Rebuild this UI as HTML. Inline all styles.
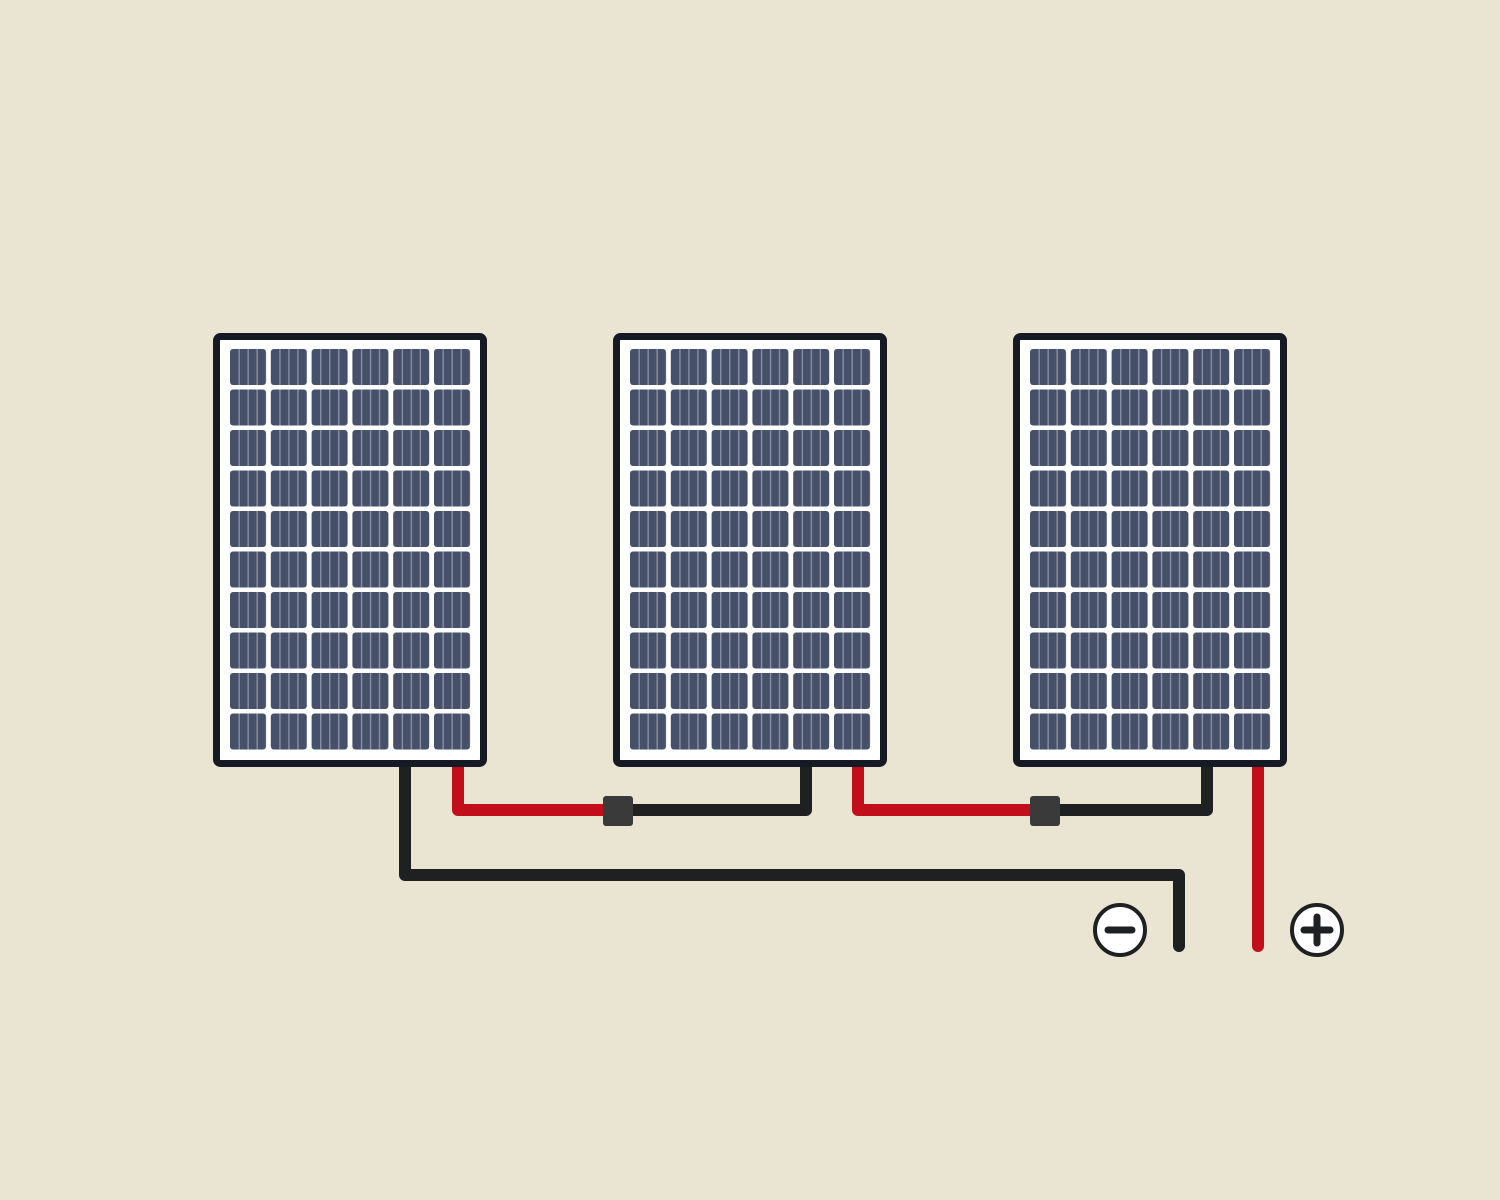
<!DOCTYPE html>
<html><head><meta charset="utf-8"><style>html,body{margin:0;padding:0;background:#eae5d3}svg{display:block}</style></head>
<body>
<svg width="1500" height="1200" viewBox="0 0 1500 1200" xmlns="http://www.w3.org/2000/svg">
<defs>
<pattern id="c" patternUnits="userSpaceOnUse" x="230" y="349" width="40.8" height="40.5">
<rect x="0" y="0" width="36" height="36" rx="3" fill="#465069"/>
<rect x="8.5" y="0" width="1.3" height="36" fill="#8a93a8"/>
<rect x="17.5" y="0" width="1.3" height="36" fill="#8a93a8"/>
<rect x="26.5" y="0" width="1.3" height="36" fill="#8a93a8"/>
</pattern>
<g id="p">
<rect x="216.5" y="336.5" width="267" height="427" rx="4" fill="#fff" stroke="#151a24" stroke-width="7"/>
<rect x="230" y="349" width="241" height="401" fill="url(#c)"/>
</g>
</defs>
<rect width="1500" height="1200" fill="#eae5d3"/>
<g fill="none" stroke-width="12" stroke-linecap="round" stroke-linejoin="round">
<path d="M405 764 V875 H1179 V946" stroke="#1e2022"/>
<path d="M458 764 V810 H618" stroke="#c20d1a"/>
<path d="M618 810 H806 V764" stroke="#1e2022"/>
<path d="M858 764 V810 H1045" stroke="#c20d1a"/>
<path d="M1045 810 H1207 V764" stroke="#1e2022"/>
<path d="M1258 764 V946" stroke="#c20d1a"/>
</g>
<use href="#p"/>
<use href="#p" x="400"/>
<use href="#p" x="800"/>
<rect x="603" y="796" width="30" height="30" rx="3" fill="#3a3a3a"/>
<rect x="1030" y="796" width="30" height="30" rx="3" fill="#3a3a3a"/>
<circle cx="1120" cy="930" r="25" fill="#fff" stroke="#1e2022" stroke-width="4"/>
<line x1="1108" y1="930" x2="1132" y2="930" stroke="#1e2022" stroke-width="7" stroke-linecap="round"/>
<circle cx="1317" cy="930" r="25" fill="#fff" stroke="#1e2022" stroke-width="4"/>
<line x1="1304" y1="930" x2="1330" y2="930" stroke="#1e2022" stroke-width="7" stroke-linecap="round"/>
<line x1="1317" y1="917" x2="1317" y2="943" stroke="#1e2022" stroke-width="7" stroke-linecap="round"/>
</svg>
</body></html>
